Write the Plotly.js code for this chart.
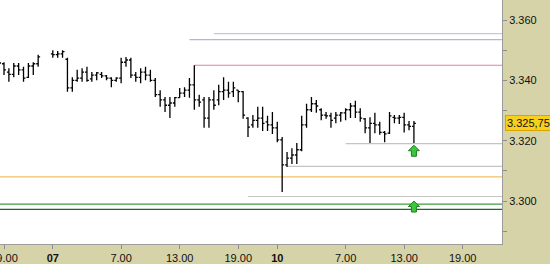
<!DOCTYPE html>
<html>
<head>
<meta charset="utf-8">
<script src="https://cdn.plot.ly/plotly-3.0.1.min.js"></script>
<style>
  html, body { margin: 0; padding: 0; background: #d6d3a8; }
  #chart { width: 550px; height: 264px; }
</style>
</head>
<body>
<div id="chart"></div>
<script>
// 30-minute bars, x = bar slot (one slot per half hour, session breaks leave gaps)
const barSlot = [-1, 0, 1, 2, 3, 4, 5, 6, 7,
  10, 11, 12, 13, 14, 15, 16, 17, 18, 19, 20, 21, 22, 23, 24, 25, 26, 27, 28, 29, 30,
  31, 32, 33, 34, 35, 36, 37, 38, 39, 40, 41, 42, 43, 44, 45, 46, 47, 48, 49, 50,
  51, 52, 53, 54, 55, 56, 57, 58, 59, 60, 61, 62, 63, 64, 65, 66, 67, 68, 69, 70,
  71, 72, 73, 74, 75, 76, 77, 78, 79, 80, 81, 82, 83, 84];

const barOpen = [3344.75, 3345.50, 3342.75, 3342.00, 3344.75, 3343.50, 3341.00, 3344.75, 3345.50,
  3348.75, 3348.50, 3348.75, 3347.00, 3337.50, 3340.00, 3340.75, 3342.75, 3340.50, 3341.75, 3342.00,
  3341.50, 3340.75, 3340.00, 3340.75, 3346.00, 3346.75, 3341.75, 3341.00, 3342.75, 3341.75,
  3340.00, 3335.25, 3333.50, 3331.75, 3332.50, 3334.25, 3335.75, 3336.75, 3338.50, 3333.50,
  3333.50, 3327.50, 3333.50, 3333.50, 3336.25, 3336.75, 3336.25, 3336.75, 3336.25, 3327.50,
  3325.25, 3326.75, 3327.50, 3326.25, 3325.25, 3324.25, 3320.25, 3312.00, 3314.25, 3315.25,
  3317.00, 3325.25, 3330.25, 3332.25, 3330.25, 3328.50, 3328.25, 3327.50, 3328.50, 3329.25,
  3330.25, 3331.50, 3329.50, 3327.25, 3324.25, 3325.75, 3325.25, 3322.75, 3322.50, 3327.75,
  3327.50, 3327.75, 3325.25, 3324.75];

const barHigh = [3347.75, 3346.00, 3344.00, 3345.75, 3345.75, 3344.50, 3345.75, 3346.00, 3348.50,
  3350.00, 3349.75, 3350.00, 3347.50, 3341.00, 3343.50, 3344.00, 3344.50, 3342.75, 3342.75, 3342.75,
  3341.75, 3341.00, 3341.00, 3347.50, 3347.75, 3347.50, 3342.75, 3344.00, 3344.50, 3343.50,
  3340.75, 3336.75, 3334.50, 3334.50, 3334.50, 3337.50, 3337.75, 3340.75, 3345.00, 3335.25,
  3334.50, 3334.50, 3336.75, 3338.50, 3341.00, 3339.50, 3339.50, 3336.75, 3336.50, 3327.75,
  3328.50, 3331.25, 3331.25, 3328.25, 3329.50, 3326.25, 3321.25, 3316.25, 3317.50, 3319.25,
  3328.25, 3332.25, 3334.50, 3333.50, 3330.75, 3329.50, 3329.25, 3329.50, 3329.50, 3330.75,
  3332.50, 3333.25, 3330.75, 3327.50, 3327.75, 3329.25, 3326.25, 3323.25, 3329.50, 3328.50,
  3328.50, 3329.25, 3326.50, 3326.50];

const barLow = [3344.00, 3341.75, 3339.50, 3341.00, 3341.75, 3339.50, 3340.75, 3341.75, 3344.50,
  3347.50, 3347.50, 3347.50, 3336.25, 3336.25, 3339.50, 3339.50, 3339.50, 3339.50, 3340.00, 3340.75,
  3340.00, 3337.75, 3339.50, 3339.00, 3344.50, 3340.75, 3339.50, 3339.00, 3340.00, 3339.50,
  3334.50, 3331.25, 3329.50, 3327.50, 3331.25, 3334.25, 3334.50, 3334.25, 3330.25, 3331.25,
  3324.25, 3324.25, 3330.25, 3331.75, 3333.50, 3334.25, 3334.50, 3332.75, 3327.25, 3321.25,
  3324.25, 3324.25, 3323.25, 3323.25, 3322.25, 3319.50, 3303.00, 3311.25, 3312.25, 3312.25,
  3316.50, 3324.25, 3329.50, 3329.25, 3326.75, 3327.25, 3324.25, 3325.75, 3326.25, 3326.75,
  3327.50, 3327.50, 3326.25, 3322.50, 3319.25, 3322.50, 3322.00, 3319.50, 3322.25, 3325.75,
  3325.50, 3322.75, 3323.50, 3319.25];

const barClose = [3345.75, 3343.50, 3342.00, 3344.75, 3343.50, 3340.75, 3344.75, 3345.50, 3347.75,
  3348.50, 3348.75, 3349.50, 3337.50, 3340.00, 3340.75, 3342.75, 3340.00, 3341.75, 3342.50, 3341.50,
  3340.75, 3340.00, 3340.75, 3346.00, 3346.75, 3341.75, 3341.00, 3342.75, 3341.75, 3340.00,
  3335.25, 3333.50, 3331.75, 3332.50, 3334.25, 3335.75, 3336.75, 3338.50, 3333.50, 3332.75,
  3327.50, 3333.50, 3331.75, 3336.25, 3336.75, 3335.75, 3337.50, 3336.25, 3328.50, 3324.50,
  3326.75, 3327.50, 3325.75, 3325.25, 3324.25, 3320.25, 3312.00, 3314.25, 3315.25, 3317.00,
  3325.25, 3330.25, 3332.25, 3331.50, 3328.50, 3328.25, 3326.75, 3328.50, 3329.25, 3330.25,
  3331.50, 3329.50, 3327.50, 3324.25, 3325.75, 3325.25, 3322.75, 3322.25, 3328.25, 3327.50,
  3327.75, 3325.25, 3324.75, 3325.75];

// time axis labels (day numbers in bold)
const timeTickSlots = [0, 10, 24, 36, 48, 56, 70, 82, 94];
const timeTickText = ['19.00', '<b>07</b>', '7.00', '13.00', '19.00', '<b>10</b>', '7.00', '13.00', '19.00'];

// horizontal price levels; start slot null = drawn across the whole chart
const levelPrice = [3355.50, 3353.50, 3345.00, 3319.00, 3311.50, 3308.00, 3301.50, 3299.00, 3297.25];
const levelStart = [43, 38, 39, 70, 58, null, 50, null, null];
const levelColor = ['#c6c6e0', '#b4b4d8', '#e47ab0', '#c4c4c4', '#c4c4c4', '#f2c160', '#c4c4c4', '#3f9e3f', '#1f6a1f'];

// buy signals (arrow tip at slot / price)
const signalSlot = [84, 84];
const signalPrice = [3318.50, 3300.00];

const xRange = [-0.82, 102.05];
const yRange = [3285.76, 3366.63];

const lastClose = barClose[barClose.length - 1];
function euroFormat(v) {
  const parts = v.toFixed(2).split('.');
  const intPart = parts[0].replace(/\B(?=(\d{3})+(?!\d))/g, '.');
  return intPart + ',' + parts[1];
}

const shapes = [];
levelPrice.forEach((p, i) => {
  const full = levelStart[i] === null;
  shapes.push({
    type: 'line', layer: 'below',
    xref: full ? 'paper' : 'x', yref: 'y',
    x0: full ? 0 : levelStart[i], x1: full ? 1 : xRange[1],
    y0: p, y1: p,
    line: { color: levelColor[i], width: 1.2 }
  });
});
signalSlot.forEach((s, i) => {
  shapes.push({
    type: 'path', xref: 'x', yref: 'y',
    xsizemode: 'pixel', ysizemode: 'pixel',
    xanchor: s, yanchor: signalPrice[i],
    path: 'M0,0 L5.5,-5.5 L2.5,-5.5 L2.5,-11 L-2.5,-11 L-2.5,-5.5 L-5.5,-5.5 Z',
    fillcolor: '#3cc83c',
    line: { color: '#1e7d1e', width: 1 }
  });
});

const trace = {
  type: 'ohlc',
  x: barSlot,
  open: barOpen, high: barHigh, low: barLow, close: barClose,
  tickwidth: 0.4,
  increasing: { line: { color: '#000000', width: 1.3 } },
  decreasing: { line: { color: '#000000', width: 1.3 } },
  hoverinfo: 'skip'
};

const layout = {
  width: 550, height: 264,
  margin: { l: 0, r: 48, t: 0, b: 20 },
  paper_bgcolor: '#d6d3a8',
  plot_bgcolor: '#ffffff',
  separators: ',.',
  showlegend: false,
  font: { family: 'Arial, "Liberation Sans", sans-serif', size: 11, color: '#111111' },
  xaxis: {
    range: xRange, type: 'linear',
    rangeslider: { visible: false },
    tickmode: 'array', tickvals: timeTickSlots, ticktext: timeTickText,
    ticks: 'outside', ticklen: 4, tickcolor: '#8c8c8c',
    ticklabeloverflow: 'allow',
    showline: true, linecolor: '#9c9c9c', linewidth: 1,
    showgrid: false, zeroline: false, fixedrange: true
  },
  yaxis: {
    range: yRange, side: 'right',
    tickmode: 'linear', tick0: 3300, dtick: 20, tickformat: ',d',
    ticks: 'outside', ticklen: 4, tickcolor: '#8c8c8c',
    minor: { dtick: 10, tick0: 3300, ticks: 'outside', ticklen: 4, tickcolor: '#8c8c8c', showgrid: false },
    showline: true, linecolor: '#9c9c9c', linewidth: 1,
    showgrid: false, zeroline: false, fixedrange: true
  },
  shapes: shapes,
  annotations: [{
    xref: 'paper', x: 1, xanchor: 'left', xshift: 3,
    yref: 'y', y: lastClose, yanchor: 'middle',
    text: euroFormat(lastClose), showarrow: false,
    bgcolor: '#f7cf1c', bordercolor: '#d9a400', borderwidth: 1, borderpad: 1,
    font: { size: 11, color: '#111111', family: 'Arial, "Liberation Sans", sans-serif' }
  }]
};

Plotly.newPlot('chart', [trace], layout, { staticPlot: true, displayModeBar: false });
</script>
</body>
</html>
